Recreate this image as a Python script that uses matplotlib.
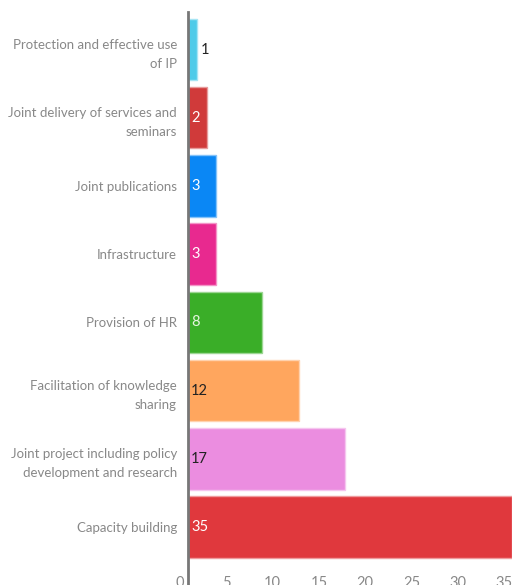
#!/usr/bin/env python3

import matplotlib.pyplot as plt
from matplotlib.transforms import ScaledTranslation

# Daten
categories = [
    "Protection and effective use\nof IP",
    "Joint delivery of services and\nseminars",
    "Joint publications",
    "Infrastructure",
    "Provision of HR",
    "Facilitation of knowledge\nsharing",
    "Joint project including policy\ndevelopment and research",
    "Capacity building",
]
values = [1, 2, 3, 3, 8, 12, 17, 35]
bar_colors = ["#4fcbe9", "#d03a3a", "#0a87f5", "#e8298f",
              "#3aae28", "#ffa65e", "#eb8de0", "#e0383d"]
edge_colors = ["#a6e5f4", "#e79c9c", "#84c3fa", "#f394c7",
               "#9cd693", "#ffd2ae", "#f5c6ef", "#ef9b9e"]
value_colors = ["#222222", "white", "white", "white",
                "#e6f5e0", "#222222", "#222222", "white"]
xticks = [0, 5, 10, 15, 20, 25, 30, 35]

plt.rcParams['font.family'] = ['Lato', 'DejaVu Sans']

fig = plt.figure(figsize=(5.12, 5.85), dpi=100)
ax = fig.add_axes([188 / 512, 1 - 568 / 585, 1 - 188 / 512, (568 - 12) / 585])

y = list(range(len(values)))
ax.barh(y, values, height=0.9, color=bar_colors, edgecolor=edge_colors, linewidth=1)

# Werte in bzw. neben den Balken
for i, v in enumerate(values):
    if v < 2:
        ax.text(v + 0.35, i, str(v), va='center', ha='left', fontsize=10.5,
                color=value_colors[i])
    else:
        ax.text(0.35, i, str(v), va='center', ha='left', fontsize=10.5,
                color=value_colors[i])

ax.set_ylim(7.6, -0.55)
ax.set_xlim(0, 34.8)
ax.set_yticks(y)
ax.set_yticklabels(categories, fontsize=9.5, color="#888888", linespacing=1.75)
ax.set_xticks(xticks)
ax.set_xticklabels([str(t) for t in xticks], fontsize=10.5, color="#888888")
ax.tick_params(axis='both', length=0)
ax.tick_params(axis='y', pad=8)
ax.tick_params(axis='x', pad=6)

# Tick-Beschriftungen etwas nach links verschieben
for lbl in ax.get_xticklabels():
    lbl.set_transform(lbl.get_transform() + ScaledTranslation(-8 / 100, 0, fig.dpi_scale_trans))

for s in ['top', 'right', 'bottom']:
    ax.spines[s].set_visible(False)
ax.spines['left'].set_color("#777777")
ax.spines['left'].set_linewidth(2)
ax.spines['left'].set_bounds(7.9, -0.55)

fig.savefig("out.png", dpi=100)
